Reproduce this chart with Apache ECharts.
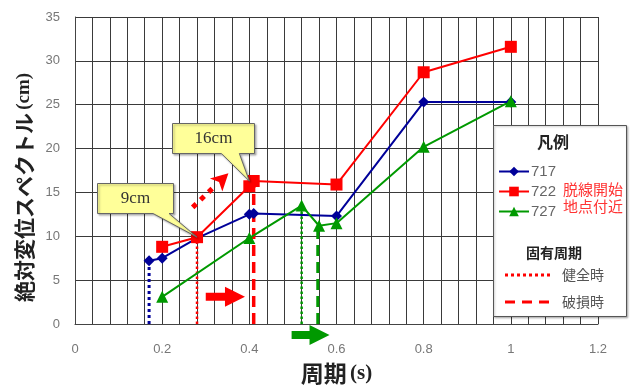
<!DOCTYPE html>
<html><head><meta charset="utf-8">
<script src="https://cdn.jsdelivr.net/npm/echarts@6/dist/echarts.min.js"></script>
<style>html,body{margin:0;padding:0;background:#fff}#c{width:631px;height:390px}</style>
</head><body><div id="c"></div>
<script>
// ---- data ----
const seriesNames = ['717', '722', '727'];
const s717 = [[0.17,7.2],[0.2,7.5],[0.28,9.8],[0.4,12.5],[0.41,12.6],[0.6,12.3],[0.8,25.3],[1.0,25.3]];
const s722 = [[0.2,8.8],[0.28,9.9],[0.4,15.7],[0.41,16.3],[0.6,15.9],[0.8,28.7],[1.0,31.6]];
const s727 = [[0.2,3.1],[0.4,9.8],[0.52,13.5],[0.56,11.2],[0.6,11.5],[0.8,20.2],[1.0,25.4]];
// natural periods: [period, value at top]
const healthy717 = [0.17, 7.2];
const healthy722 = [0.28, 9.9];
const damaged722 = [0.41, 16.3];
const healthy727 = [0.52, 13.5];
const damaged727 = [0.557, 11.2];
// arrows [x0,y0,x1,y1]
const solidArrows = [[0.30,3.1,0.39,3.1],[0.497,-1.24,0.584,-1.24]];
const dottedArrows = [[0.27,13.3,0.352,17.2]];
// callouts [x,y,label]
const callouts = [[0.28,9.9,'9cm'],[0.4,16.3,'16cm']];
const xMin = 0, xMax = 1.2, xStep = 0.2;
const yMin = 0, yMax = 35, yStep = 5;

// ---- styles ----
const BLUE = '#000099', RED = '#FF0000', GREEN = '#009900';
const arrowColors = [RED, GREEN];
const calloutBoxes = [ // relative to anchor: left, top, width, height, tail base x0, x1
  {l:-100, t:-54, w:76, h:30, a:-44, b:-28},
  {l:-77, t:-58, w:82, h:30, a:-28, b:-10}
];

function arrowPoly(p0, p1, bw, hl, hw) {
  const dx = p1[0]-p0[0], dy = p1[1]-p0[1];
  const L = Math.hypot(dx, dy), ux = dx/L, uy = dy/L, nx = -uy, ny = ux;
  const b = [p1[0]-ux*hl, p1[1]-uy*hl];
  return [
    [p0[0]+nx*bw/2, p0[1]+ny*bw/2], [b[0]+nx*bw/2, b[1]+ny*bw/2],
    [b[0]+nx*hw/2, b[1]+ny*hw/2], p1, [b[0]-nx*hw/2, b[1]-ny*hw/2],
    [b[0]-nx*bw/2, b[1]-ny*bw/2], [p0[0]-nx*bw/2, p0[1]-ny*bw/2]
  ];
}

function vline(p, color, dash, width) {
  return {type:'line', data:[[p[0],0],[p[0],p[1]]], symbol:'none', silent:true,
    lineStyle:{color:color, width:width, type:dash}, z:1};
}

const chart = echarts.init(document.getElementById('c'), null, {renderer:'canvas'});
const gridColor = '#3a3a3a';
const option = {
  animation:false,
  backgroundColor:'#fff',
  grid:{left:75, right:33, top:17, bottom:63},
  xAxis:{type:'value', min:xMin, max:xMax, interval:xStep,
    axisLine:{show:true, onZero:false, lineStyle:{color:'#444', width:1}},
    axisTick:{show:false},
    axisLabel:{color:'#777', fontSize:13, margin:19, fontFamily:'Liberation Sans'},
    splitLine:{show:true, lineStyle:{color:gridColor, width:1}},
    minorTick:{show:false, splitNumber:5},
    minorSplitLine:{show:true, lineStyle:{color:gridColor, width:1}},
    name:'{a|周期} {b|(s)}', nameLocation:'middle', nameGap:38,
    nameTextStyle:{rich:{
      a:{fontSize:23, fontWeight:'bold', fontFamily:'Noto Sans CJK JP', color:'#222'},
      b:{fontSize:21, fontWeight:'bold', fontFamily:'Liberation Serif', color:'#222'}}}
  },
  yAxis:{type:'value', min:yMin, max:yMax, interval:yStep,
    axisLine:{show:true, lineStyle:{color:'#444', width:1}},
    axisTick:{show:false},
    axisLabel:{color:'#777', fontSize:13, margin:15, fontFamily:'Liberation Sans'},
    splitLine:{show:true, lineStyle:{color:gridColor, width:1}},
    name:'{a|絶対変位スペクトル} {b|(cm)}', nameLocation:'middle', nameGap:38, nameRotate:90,
    nameTextStyle:{padding:[0,34,0,0], rich:{
      a:{fontSize:21, fontWeight:'bold', fontFamily:'Noto Sans CJK JP', color:'#222'},
      b:{fontSize:19, fontWeight:'bold', fontFamily:'Liberation Serif', color:'#222'}}}
  },
  legend:{data:seriesNames, orient:'vertical', left:498, top:164, padding:0, itemWidth:30, itemHeight:12, itemGap:5,
    textStyle:{color:'#666', fontSize:15, fontFamily:'Liberation Sans', padding:[0,0,0,-3]}, z:20, selectedMode:false},
  graphic:[
    {type:'rect', z:15, shape:{x:493.5, y:125.5, width:133, height:191},
      style:{fill:'#fff', stroke:'#555', lineWidth:1, shadowColor:'rgba(0,0,0,0.25)', shadowOffsetX:1, shadowOffsetY:1, shadowBlur:2}},
    {type:'text', z:16, x:553, y:142, style:{text:'凡例', fill:'#222', font:'bold 16px "Noto Sans CJK JP"', align:'center', verticalAlign:'middle'}},
    {type:'text', z:16, x:563, y:198, style:{text:'脱線開始\n地点付近', fill:'#FF3333', font:'15px "Noto Sans CJK JP"', lineHeight:17, align:'left', verticalAlign:'middle'}},
    {type:'text', z:16, x:554, y:253, style:{text:'固有周期', fill:'#222', font:'bold 14px "Noto Sans CJK JP"', align:'center', verticalAlign:'middle'}},
    {type:'line', z:16, shape:{x1:505, y1:275, x2:552, y2:275}, style:{stroke:RED, lineWidth:3, lineDash:[3,3]}},
    {type:'text', z:16, x:562, y:275, style:{text:'健全時', fill:'#555', font:'14px "Noto Sans CJK JP"', align:'left', verticalAlign:'middle'}},
    {type:'line', z:16, shape:{x1:505, y1:302, x2:552, y2:302}, style:{stroke:RED, lineWidth:3, lineDash:[10,7]}},
    {type:'text', z:16, x:562, y:302, style:{text:'破損時', fill:'#555', font:'14px "Noto Sans CJK JP"', align:'left', verticalAlign:'middle'}}
  ],
  series:[
    vline(healthy717, BLUE, [3,3], 3),
    vline(healthy722, RED, [2.5,2.5], 2.5),
    vline(damaged722, RED, [11,6], 3.5),
    vline(healthy727, GREEN, [2.5,2.5], 2.5),
    vline(damaged727, GREEN, [11,6], 3),
    {name:'717', type:'line', data:s717, symbol:'diamond', symbolSize:11, color:BLUE,
      lineStyle:{color:BLUE, width:2}, itemStyle:{color:BLUE}, z:3},
    {name:'722', type:'line', data:s722, symbol:'rect', symbolSize:12, color:RED,
      lineStyle:{color:RED, width:2}, itemStyle:{color:RED}, z:4},
    {name:'727', type:'line', data:s727, symbol:'triangle', symbolSize:12, color:GREEN,
      lineStyle:{color:GREEN, width:2}, itemStyle:{color:GREEN}, z:3},
    {type:'custom', name:'arrows', data:solidArrows, clip:false, silent:true, z:6,
      encode:{x:[0,2], y:[1,3]},
      renderItem:function(params, api){
        const p0 = api.coord([api.value(0), api.value(1)]);
        const p1 = api.coord([api.value(2), api.value(3)]);
        return {type:'polygon', shape:{points:arrowPoly(p0,p1,8,20,20)}, style:{fill:arrowColors[params.dataIndex]}};
      }},
    {type:'custom', name:'dotarrow', data:dottedArrows, clip:false, silent:true, z:6,
      encode:{x:[0,2], y:[1,3]},
      renderItem:function(params, api){
        const p0 = api.coord([api.value(0), api.value(1)]);
        const p1 = api.coord([api.value(2), api.value(3)]);
        const dx=p1[0]-p0[0], dy=p1[1]-p0[1], L=Math.hypot(dx,dy), ux=dx/L, uy=dy/L, nx=-uy, ny=ux;
        const hl=17, hw=18;
        const b=[p1[0]-ux*hl, p1[1]-uy*hl];
        return {type:'group', children:[
          {type:'line', shape:{x1:p0[0], y1:p0[1], x2:b[0], y2:b[1]}, style:{stroke:RED, lineWidth:5, lineDash:[5,6]}},
          {type:'polygon', shape:{points:[p1,[b[0]+nx*hw/2,b[1]+ny*hw/2],[b[0]+ux*4,b[1]+uy*4],[b[0]-nx*hw/2,b[1]-ny*hw/2]]}, style:{fill:RED}}
        ]};
      }},
    {type:'custom', name:'callouts', data:callouts, clip:false, silent:true, z:7,
      encode:{x:0, y:1},
      renderItem:function(params, api){
        const p = api.coord([api.value(0), api.value(1)]);
        const c = calloutBoxes[params.dataIndex];
        const L = Math.round(p[0]+c.l)+0.5, T = Math.round(p[1]+c.t)+0.5, R = L+c.w, B = T+c.h;
        const pts = [[L,T],[R,T],[R,B],[p[0]+c.b,B],p,[p[0]+c.a,B],[L,B]];
        return {type:'group', children:[
          {type:'polygon', shape:{points:pts}, style:{fill:'#FFFF99', stroke:'#666', lineWidth:1,
            shadowColor:'rgba(0,0,0,0.3)', shadowOffsetX:1.5, shadowOffsetY:1.5, shadowBlur:2}},
          {type:'text', x:(L+R)/2, y:(T+B)/2, style:{text:api.value(2), fill:'#333',
            font:'17px "Liberation Serif"', align:'center', verticalAlign:'middle'}}
        ]};
      }}
  ]
};
chart.setOption(option);
</script></body></html>
